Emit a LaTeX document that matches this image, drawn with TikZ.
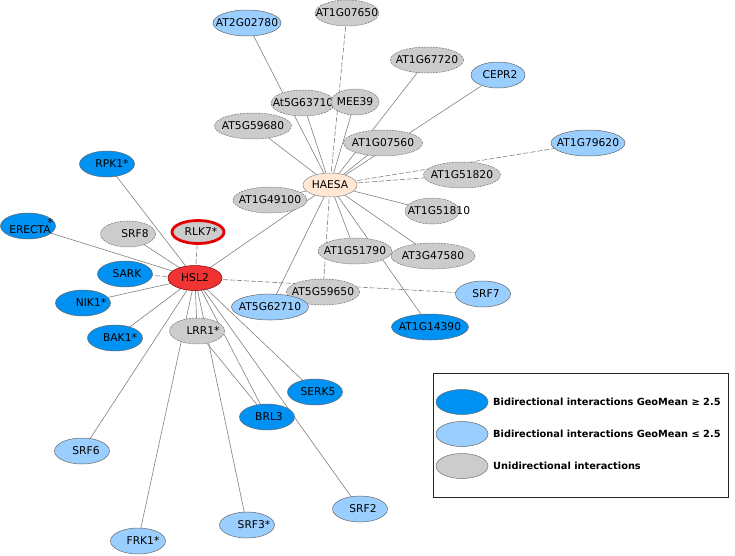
\documentclass[tikz,border=0pt]{standalone}
\usepackage{fontspec}
\setmainfont{DejaVu Sans}
\usetikzlibrary{shapes.geometric,backgrounds}
\definecolor{dblue}{RGB}{0,146,242}
\definecolor{lblue}{RGB}{153,206,255}
\definecolor{gfill}{RGB}{204,204,204}
\definecolor{hslred}{RGB}{240,52,52}
\definecolor{peach}{RGB}{255,231,212}
\definecolor{edgec}{RGB}{128,128,128}
\newcommand{\lbl}[2][0]{\makebox[0pt]{\hspace*{#1pt}\hspace*{#1pt}#2}}
\begin{document}
\begin{tikzpicture}[x=1pt,y=-1pt,
  nd/.style={ellipse,inner sep=0pt,minimum height=26pt,minimum width=55pt,
    font=\fontsize{10.7}{12}\selectfont,draw=black!60,line width=0.5pt},
  db/.style={nd,fill=dblue},
  lb/.style={nd,fill=lblue},
  gy/.style={nd,fill=gfill,draw=black!55,dash pattern=on 2pt off 1pt},
  ed/.style={draw=edgec,line width=0.6pt},
  de/.style={ed,dash pattern=on 5pt off 2pt},
  legtext/.style={anchor=west,inner sep=0pt,font=\fontsize{9.8}{12}\selectfont\bfseries}]
\useasboundingbox (0,0) rectangle (735,555);
% HAESA cluster
\node[gy,minimum width=64pt] (AT1G07650) at (347,13) {\lbl{AT1G07650}};
\node[lb,minimum width=68pt] (AT2G02780) at (247,23) {\lbl{AT2G02780}};
\node[gy,minimum width=73pt] (AT1G67720) at (427,60) {\lbl{AT1G67720}};
\node[lb,minimum width=54pt] (CEPR2) at (498,75) {\lbl[2]{CEPR2}};
\node[gy,minimum width=64pt] (At5G63710) at (303,103) {\lbl{At5G63710}};
\node[gy,minimum width=48pt] (MEE39) at (355,102) {\lbl{MEE39}};
\node[gy,minimum width=77pt] (AT5G59680) at (253,126) {\lbl{AT5G59680}};
\node[gy,minimum width=79pt] (AT1G07560) at (383,143) {\lbl{AT1G07560}};
\node[lb,minimum width=74pt] (AT1G79620) at (588,143) {\lbl{AT1G79620}};
\node[gy,minimum width=77pt] (AT1G51820) at (462,175) {\lbl{AT1G51820}};
\node[nd,fill=peach,draw=black!45,minimum width=54pt,minimum height=24pt] (HAESA) at (330,185) {\lbl{HAESA}};
\node[gy,minimum width=74pt] (AT1G49100) at (270,200) {\lbl{AT1G49100}};
\node[gy,minimum width=54pt] (AT1G51810) at (432,211) {\lbl[7]{AT1G51810}};
\node[gy,minimum width=74pt] (AT1G51790) at (355,251) {\lbl{AT1G51790}};
\node[gy,minimum width=84pt] (AT3G47580) at (433,256) {\lbl{AT3G47580}};
\node[gy,minimum width=73pt] (AT5G59650) at (323,292) {\lbl{AT5G59650}};
\node[lb,minimum width=77pt] (AT5G62710) at (270,307) {\lbl{AT5G62710}};
\node[lb] (SRF7) at (483,294) {\lbl[3]{SRF7}};
\node[db,minimum width=77pt] (AT1G14390) at (430,327) {\lbl{AT1G14390}};
% HSL2 cluster
\node[db] (RPK1) at (107,164) {\lbl[5]{RPK1*}};
\node[db] (ERECTA) at (28,226) {\lbl[2]{ERECTA\rlap{\kern-3pt\raisebox{7pt}{*}}}};
\node[gy] (SRF8) at (128,234) {\lbl[7]{SRF8}};
\node[nd,fill=gfill,draw=red!90!black,line width=2.8pt,minimum width=52pt,minimum height=23pt] (RLK7) at (198,232) {\lbl[3]{RLK7*}};
\node[nd,fill=hslred,draw=red!50!black,minimum width=54pt,minimum height=25pt] (HSL2) at (195,278) {\lbl{HSL2}};
\node[db] (SARK) at (125,274) {\lbl[2]{SARK}};
\node[db] (NIK1) at (83,303) {\lbl[8]{NIK1*}};
\node[db] (BAK1) at (115,338) {\lbl[5]{BAK1*}};
\node[gy] (LRR1) at (197,331) {\lbl[6]{LRR1*}};
\node[db] (SERK5) at (315,392) {\lbl[3]{SERK5}};
\node[db] (BRL3) at (267,417) {\lbl[2]{BRL3}};
\node[lb] (SRF6) at (82,451) {\lbl[4]{SRF6}};
\node[lb] (FRK1) at (138,541) {\lbl[5]{FRK1*}};
\node[lb] (SRF3) at (247,525) {\lbl[7]{SRF3*}};
\node[lb] (SRF2) at (360,509) {\lbl[3]{SRF2}};
% edges
\begin{scope}[on background layer]
\foreach \n in {AT2G02780,AT1G67720,CEPR2,At5G63710,MEE39,AT5G59680,AT1G07560,AT1G51810,AT1G49100,AT1G51790,AT3G47580,AT5G62710,AT1G14390,HSL2}
  \draw[ed] (HAESA.center) -- (\n.center);
\foreach \n in {AT1G07650,AT1G79620,AT1G51820,AT5G59650}
  \draw[de] (HAESA.center) -- (\n.center);
\foreach \n in {RPK1,ERECTA,SRF8,NIK1,BAK1,LRR1,SRF6,FRK1,SRF3,BRL3,SRF2,SERK5}
  \draw[ed] (HSL2.center) -- (\n.center);
\foreach \n in {RLK7,SARK,SRF7}
  \draw[de] (HSL2.center) -- (\n.center);
\draw[ed] (LRR1.center) -- (BRL3.center);
\end{scope}
% legend
\draw[black!85,line width=0.8pt] (433,373) rectangle (728,497);
\node[nd,fill=dblue,minimum width=52pt,minimum height=25pt] (L1) at (462,402) {};
\node[nd,fill=lblue,minimum width=52pt,minimum height=25pt] (L2) at (462,434) {};
\node[nd,fill=gfill,draw=black!55,minimum width=52pt,minimum height=25pt] (L3) at (462,466) {};
\node[legtext] (T1) at (493,402) {Bidirectional interactions GeoMean ≥ 2.5};
\node[legtext] (T2) at (493,434) {Bidirectional interactions GeoMean ≤ 2.5};
\node[legtext] (T3) at (493,466) {Unidirectional interactions};
\end{tikzpicture}
\end{document}
